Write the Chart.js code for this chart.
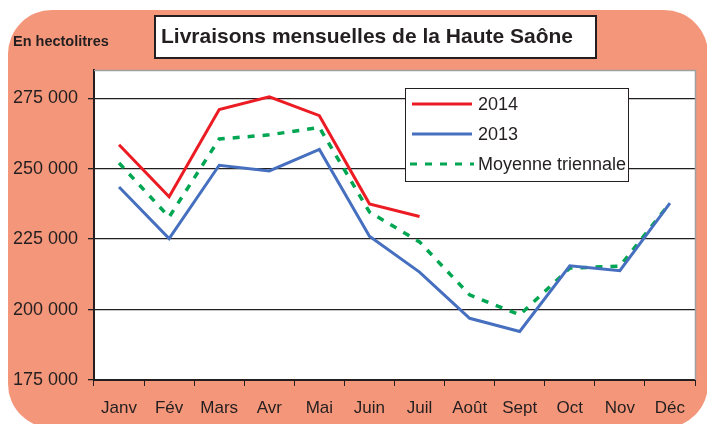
<!DOCTYPE html>
<html lang="fr">
<head>
    <meta charset="UTF-8">
    <title>Livraisons mensuelles de la Haute Saône</title>
    <script src="https://cdn.jsdelivr.net/npm/chart.js"></script>
    <style>
        html, body { margin: 0; padding: 0; background: #fff; }
        canvas { display: block; }
    </style>
</head>
<body>
    <canvas id="livraisons" width="707" height="424"></canvas>

    <script>
        const months = ['Janv', 'Fév', 'Mars', 'Avr', 'Mai', 'Juin', 'Juil', 'Août', 'Sept', 'Oct', 'Nov', 'Déc'];
        const livraisons2014 = [258500, 240000, 271000, 275500, 268800, 237500, 233000, null, null, null, null, null];
        const livraisons2013 = [243500, 225200, 251200, 249200, 256800, 226000, 213300, 196900, 192200, 215500, 213800, 237800];
        const moyenneTriennale = [252000, 232800, 260500, 262000, 264600, 234600, 224000, 205200, 198100, 214700, 215400, 237800];
        const yTicks = [175000, 200000, 225000, 250000, 275000];

        const ink = '#231f20';
        const salmon = '#f4967a';
        const face = '"Liberation Sans", Arial, sans-serif';

        function fmt(v) {
            return String(v).replace(/\B(?=(\d{3})+(?!\d))/g, ' ');
        }

        // fond saumon arrondi + zone blanche du graphique
        const decor = {
            id: 'decor',
            beforeDraw(chart) {
                const ctx = chart.ctx, a = chart.chartArea;
                ctx.save();
                ctx.fillStyle = '#fff';
                ctx.fillRect(0, 0, chart.width, chart.height);
                ctx.fillStyle = salmon;
                ctx.beginPath();
                ctx.roundRect(8, 10, 700, 418, 44);
                ctx.fill();
                ctx.fillStyle = '#fff';
                ctx.fillRect(a.left, a.top, a.right - a.left, a.bottom - a.top);
                ctx.restore();
            },
            afterDraw(chart) {
                const ctx = chart.ctx, a = chart.chartArea;
                ctx.save();
                // bord gris haut / droite
                ctx.strokeStyle = '#a0a0a0';
                ctx.lineWidth = 1.5;
                ctx.beginPath();
                ctx.moveTo(a.left, a.top + 0.5);
                ctx.lineTo(a.right + 0.5, a.top + 0.5);
                ctx.lineTo(a.right + 0.5, a.bottom);
                ctx.stroke();

                // titre
                ctx.fillStyle = '#fff';
                ctx.fillRect(155, 16, 441, 42);
                ctx.strokeStyle = ink;
                ctx.lineWidth = 2;
                ctx.strokeRect(155, 16, 441, 42);
                ctx.fillStyle = ink;
                ctx.font = 'bold 21px ' + face;
                ctx.textBaseline = 'middle';
                ctx.fillText('Livraisons mensuelles de la Haute Saône', 161, 37);

                ctx.font = 'bold 14.5px ' + face;
                ctx.fillText('En hectolitres', 13, 42);

                // légende
                ctx.fillStyle = '#fff';
                ctx.fillRect(405, 88, 223, 93);
                ctx.strokeStyle = ink;
                ctx.lineWidth = 1;
                ctx.strokeRect(405.5, 88.5, 223, 93);
                ctx.font = '18px ' + face;
                chart.data.datasets.forEach((ds, i) => {
                    const y = 104 + i * 30;
                    ctx.strokeStyle = ds.borderColor;
                    ctx.lineWidth = 3;
                    ctx.setLineDash(ds.borderDash || []);
                    ctx.beginPath();
                    ctx.moveTo(ds.borderDash ? 410 : 412, y);
                    ctx.lineTo(ds.borderDash ? 474 : 472, y);
                    ctx.stroke();
                    ctx.setLineDash([]);
                    ctx.fillStyle = ink;
                    ctx.fillText(ds.label, 478, y + 1);
                });
                ctx.restore();
            }
        };

        new Chart(document.getElementById('livraisons'), {
            type: 'line',
            data: {
                labels: months,
                datasets: [
                    { label: '2014', data: livraisons2014, borderColor: '#ec1c24', borderWidth: 3, pointRadius: 0, fill: false, tension: 0 },
                    { label: '2013', data: livraisons2013, borderColor: '#4670bf', borderWidth: 3, pointRadius: 0, fill: false, tension: 0 },
                    { label: 'Moyenne triennale', data: moyenneTriennale, borderColor: '#00a651', borderWidth: 3.5, borderDash: [7, 8], pointRadius: 0, fill: false, tension: 0 }
                ]
            },
            options: {
                responsive: false,
                animation: false,
                layout: { padding: { top: 70, right: 12, left: 0, bottom: 0 } },
                plugins: { legend: { display: false }, tooltip: { enabled: false } },
                scales: {
                    x: {
                        offset: true,
                        grid: { offset: true, drawOnChartArea: false, color: ink, tickLength: 6, lineWidth: 1 },
                        border: { color: ink, width: 2 },
                        ticks: { color: ink, padding: 12, font: { size: 17, family: face } },
                        afterFit(scale) { scale.height = 44; }
                    },
                    y: {
                        min: 175000,
                        max: 285000,
                        afterBuildTicks(scale) { scale.ticks = yTicks.map(v => ({ value: v })); },
                        grid: { color: ink, tickLength: 6, lineWidth: 1.3 },
                        border: { color: ink, width: 2 },
                        ticks: { color: ink, padding: 10, callback: v => fmt(v), font: { size: 18, family: face } },
                        afterFit(scale) { scale.width = 94; }
                    }
                }
            },
            plugins: [decor]
        });
    </script>
</body>
</html>
